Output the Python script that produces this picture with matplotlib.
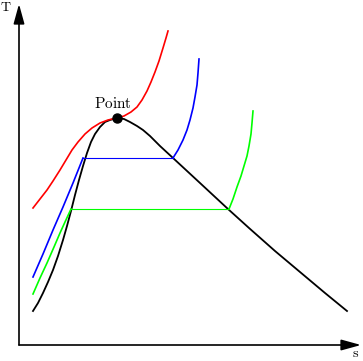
import matplotlib.pyplot as plt

plt.rcParams['mathtext.fontset'] = 'cm'

# купол (черный)
dome_x = [33, 38, 43, 48, 53, 58, 63, 67, 71, 75, 79, 83, 87, 91, 95, 100, 105, 110, 117,
          124, 130, 137, 143, 150, 160, 173, 200, 228, 249, 275, 300, 325, 347]
dome_y = [311, 303, 293, 282, 270, 256, 240, 226, 211, 195, 180, 166, 153, 142, 134, 127, 122, 120, 118,
          119, 122, 126, 130, 136, 146, 158, 183, 209, 228, 251, 272, 293, 311]

# изобара через критическую точку (красная)
red_x = [33, 40, 47, 53, 60, 66, 72, 78, 85, 92, 100, 108, 117, 124, 131, 137, 142, 147,
         151, 155, 159, 163, 166, 168]
red_y = [208, 199, 190, 181, 170, 160, 150, 142, 134, 128, 123, 120, 118, 116, 112, 107, 100, 91,
         82, 72, 61, 48, 38, 31]

# синяя изобара: жидкость / двухфазная / пар
blue_liq_x = [33, 43, 53, 63, 73, 83]
blue_liq_y = [277, 254, 230, 207, 183, 158]
blue_vap_x = [173, 178, 183, 187, 190, 193, 195, 197, 198, 199]
blue_vap_y = [158, 150, 140, 130, 120, 108, 97, 85, 73, 59]

# зеленая изобара
green_liq_x = [33, 40, 47, 54, 60, 65, 71]
green_liq_y = [294, 278, 263, 247, 233, 222, 209]
green_vap_x = [229, 233, 237, 241, 244, 247, 249, 251, 252, 253]
green_vap_y = [209, 199, 187, 176, 166, 156, 146, 134, 123, 111]

crit = (117, 118)

fig = plt.figure(figsize=(3.63, 3.61), dpi=100)
ax = fig.add_axes([0, 0, 1, 1])
ax.set_xlim(0, 363); ax.set_ylim(361, 0); ax.axis('off')

arr = dict(arrowstyle='-|>,head_length=0.8,head_width=0.22', lw=1.2, color='k',
           mutation_scale=15, shrinkA=0, shrinkB=0)
ax.annotate('', xy=(19, 4), xytext=(19, 345), arrowprops=arr)
ax.annotate('', xy=(361, 345), xytext=(19, 345), arrowprops=arr)
ax.text(6, 7, r'$\mathrm{T}$', fontsize=10, ha='center', va='center')
ax.text(356, 353, r'$\mathrm{s}$', fontsize=10, ha='center', va='center')

ax.plot(dome_x, dome_y, color='k', lw=1.3)
ax.plot(red_x, red_y, color='#ff0000', lw=1.2)
ax.plot(blue_liq_x, blue_liq_y, color='#0000ff', lw=1.2)
ax.plot([blue_liq_x[-1], blue_vap_x[0]], [blue_liq_y[-1], blue_vap_y[0]], color='#0000ff', lw=0.8)
ax.plot(blue_vap_x, blue_vap_y, color='#0000ff', lw=1.2)
ax.plot(green_liq_x, green_liq_y, color='#00ff00', lw=1.2)
ax.plot([green_liq_x[-1], green_vap_x[0]], [green_liq_y[-1], green_vap_y[0]], color='#00ff00', lw=0.8)
ax.plot(green_vap_x, green_vap_y, color='#00ff00', lw=1.2)

ax.plot(*crit, 'o', color='k', ms=6.5, zorder=5)
ax.text(crit[0] - 4, crit[1] - 14, r'$\mathrm{Point}$', fontsize=11, ha='center', va='center')

fig.savefig('out.png', dpi=100)
